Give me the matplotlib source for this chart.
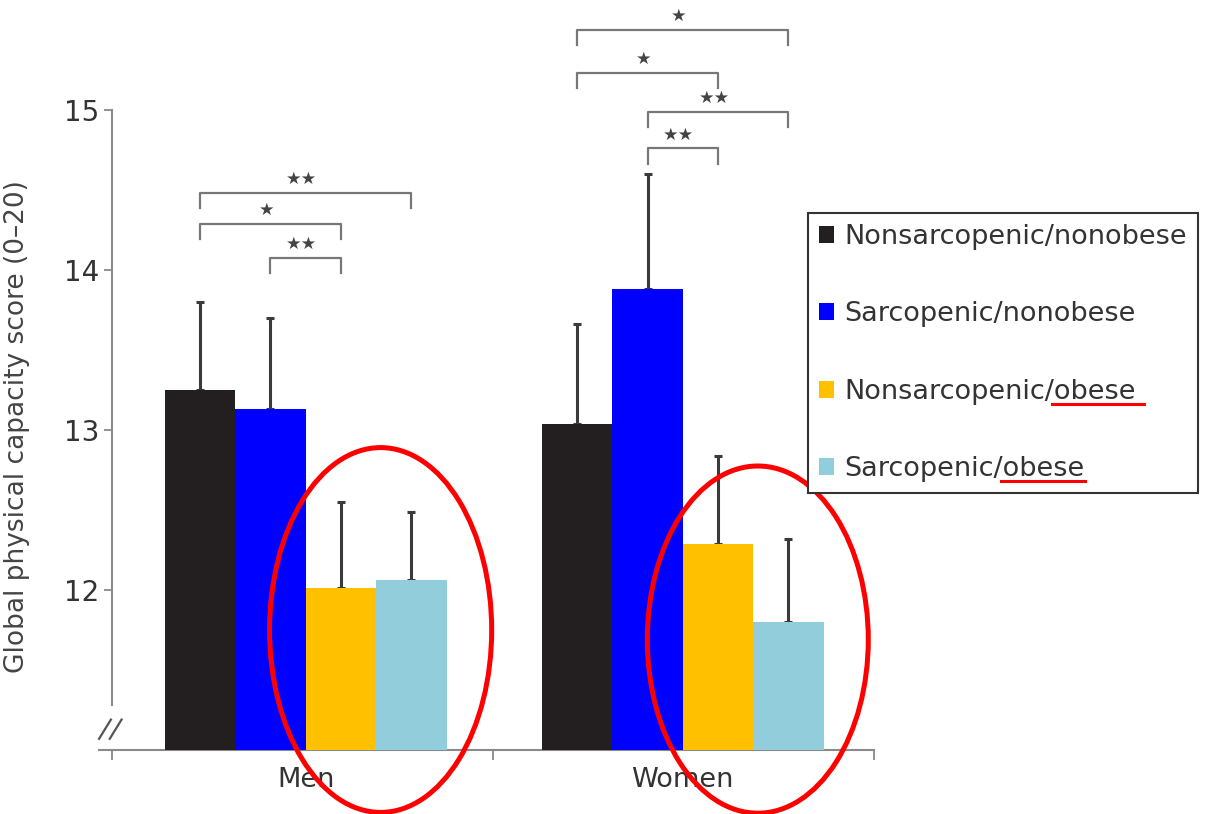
import numpy as np
import matplotlib
matplotlib.use('Agg')
import matplotlib.pyplot as plt
from matplotlib.patches import Patch, Ellipse
from matplotlib.lines import Line2D

# data
groups = ['Men', 'Women']
categories = ['Nonsarcopenic/nonobese', 'Sarcopenic/nonobese',
              'Nonsarcopenic/obese', 'Sarcopenic/obese']
colors = ['#231f20', '#0000ff', '#ffc000', '#92cddc']
men_means = [13.25, 13.13, 12.01, 12.06]
men_sd = [0.55, 0.57, 0.54, 0.43]
women_means = [13.04, 13.88, 12.29, 11.80]
women_sd = [0.62, 0.72, 0.55, 0.52]

# significance brackets: (group, bar i, bar j, label, level)
comparisons = [
    (0, 0, 3, '**', 14.48),
    (0, 0, 2, '*', 14.29),
    (0, 1, 2, '**', 14.075),
    (1, 0, 3, '*', 15.50),
    (1, 0, 2, '*', 15.23),
    (1, 1, 3, '**', 14.99),
    (1, 1, 2, '**', 14.76),
]

y_min, y_max = 11, 15
group_centers = np.array([0.508, 1.498])
offsets = np.array([-0.2775, -0.0925, 0.0925, 0.2775])
bar_w = 0.185

W, H = 1208, 814
fig = plt.figure(figsize=(W / 100, H / 100), dpi=100)
ax = fig.add_axes([98.7 / W, 64 / H, (874 - 98.7) / W, 640 / H])

text_col = '#333333'
axis_col = '#8a8a8a'

means = [men_means, women_means]
sds = [men_sd, women_sd]
bar_x = {}
for g in range(len(groups)):
    for k in range(len(categories)):
        x = group_centers[g] + offsets[k]
        bar_x[(g, k)] = x
        ax.bar(x, means[g][k] - y_min, bottom=y_min, width=bar_w,
               color=colors[k], edgecolor='none', zorder=3,
               label=categories[k] if g == 0 else None)
        ax.errorbar(x, means[g][k], yerr=[[0], [sds[g][k]]], fmt='none',
                    ecolor='#3a3a3a', elinewidth=2.2, capsize=3, capthick=2.2,
                    zorder=2)

# brackets
drop = 0.095
for g, i, j, lab, lev in comparisons:
    x0, x1 = bar_x[(g, i)], bar_x[(g, j)]
    ax.plot([x0, x0, x1, x1], [lev - drop, lev, lev, lev - drop],
            color='#777777', lw=1.6, clip_on=False, zorder=4)
    stars = '\u2605' * len(lab)
    ax.text((x0 + x1) / 2 - 0.01, lev + 0.03, stars, ha='center', va='bottom',
            fontsize=12.5, color='#444444', clip_on=False)

ax.set_xlim(-0.035, 2.0)
ax.set_ylim(y_min, y_max)

for s in ['top', 'right']:
    ax.spines[s].set_visible(False)
ax.spines['left'].set_position(('data', 0))
ax.spines['left'].set_bounds(11.28, 15)
for s in ['left', 'bottom']:
    ax.spines[s].set_color(axis_col)
    ax.spines[s].set_linewidth(1.5)

ax.set_yticks([12, 13, 14, 15])
ax.tick_params(axis='y', colors=axis_col, labelcolor=text_col, labelsize=20,
               length=6, width=1.3, pad=3)
ax.set_xticks([0, 1, 2])
ax.set_xticklabels([])
ax.set_xticks(group_centers, minor=True)
ax.set_xticklabels(groups, minor=True)
ax.tick_params(axis='x', which='major', colors=axis_col, length=7,
               width=1.3, direction='out')
ax.tick_params(axis='x', which='minor', length=0, labelsize=19.5,
               labelcolor=text_col, pad=12)

ax.set_ylabel('Global physical capacity score (0\u201320)', fontsize=19,
              color='#444444')
ax.yaxis.set_label_coords(-0.089, 0.505)

# broken axis marks
for dx in [0.0, 0.028]:
    ax.add_line(Line2D([-0.034 + dx, -0.003 + dx], [11.07, 11.19],
                       color='#555555', lw=1.6, clip_on=False))

# red highlight ellipses around the obese bars
for g, dx, dy, ew, eh in [(0, 0.012, 11.75, 0.583, 2.28),
                          (1, 0.012, 11.69, 0.58, 2.17)]:
    cx = (bar_x[(g, 2)] + bar_x[(g, 3)]) / 2 + dx
    ax.add_patch(Ellipse((cx, dy), ew, eh, fill=False, edgecolor='#ff0000',
                         lw=3.6, clip_on=False, zorder=6))

handles = [Patch(facecolor=c, edgecolor='none', label=l)
           for c, l in zip(colors, categories)]
leg = fig.legend(handles=handles, loc='upper left',
                 bbox_to_anchor=(808 / W, 1 - 213 / H), fontsize=19.5,
                 handlelength=0.55, handleheight=0.6, handletextpad=0.4,
                 labelspacing=1.9, borderpad=0.4, borderaxespad=0,
                 fancybox=False, framealpha=1, edgecolor='#333333')
leg.get_frame().set_linewidth(1.5)
for t in leg.get_texts():
    t.set_color(text_col)

# red underline under "obese" in the legend
fig.canvas.draw()
renderer = fig.canvas.get_renderer()
tmp = fig.text(0, 0, 'obese', fontsize=19.5)
w_obese = tmp.get_window_extent(renderer).width
tmp.remove()
inv = fig.transFigure.inverted()
for t, extra in zip(leg.get_texts()[2:], [8, 0]):
    bb = t.get_window_extent(renderer)
    p0 = inv.transform((bb.x1 - w_obese - 2, bb.y0 + 1))
    p1 = inv.transform((bb.x1 + extra, bb.y0 + 1))
    fig.add_artist(Line2D([p0[0], p1[0]], [p0[1], p1[1]], color='#ff0000',
                          lw=2.2, zorder=10))

fig.savefig('out.png', dpi=100)
